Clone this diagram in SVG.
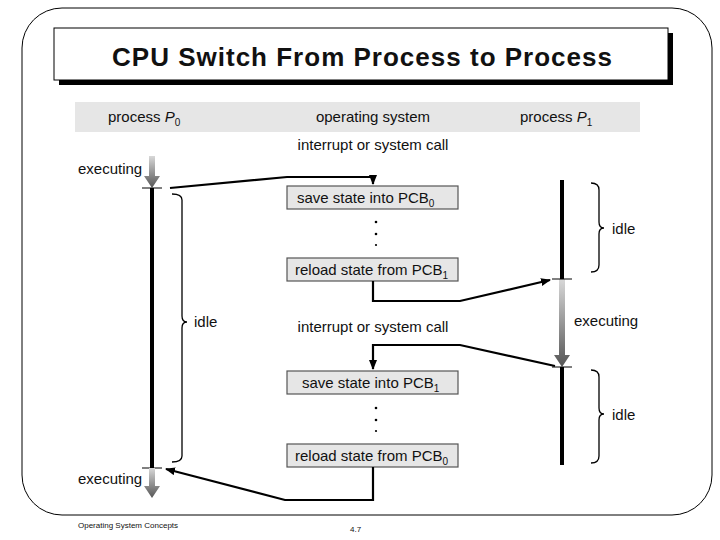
<svg xmlns="http://www.w3.org/2000/svg" width="720" height="540" viewBox="0 0 720 540">
<defs>
<marker id="ah" markerWidth="10" markerHeight="8" refX="9" refY="4" orient="auto" markerUnits="userSpaceOnUse"><path d="M0,0 L10,4 L0,8 Z" fill="#000"/></marker>
<linearGradient id="g" x1="0" y1="0" x2="0" y2="1"><stop offset="0" stop-color="#d8d8d8"/><stop offset="1" stop-color="#555"/></linearGradient>
<style>
text{font-family:"Liberation Sans",Arial,sans-serif;font-size:15px;fill:#111}
.box{fill:#e6e6e6;stroke:#555;stroke-width:1.2}
.c{fill:none;stroke:#000;stroke-width:2.2}
.br{fill:none;stroke:#000;stroke-width:1.3}
</style>
</defs>
<rect width="720" height="540" fill="#fff"/>
<rect x="22" y="8" width="690" height="507" rx="40" fill="none" stroke="#000" stroke-width="1"/>
<g id="title">
<rect x="59" y="33" width="614" height="52" fill="#000"/>
<rect x="54" y="28" width="614" height="52" fill="#fff" stroke="#000" stroke-width="1"/>
<text x="362" y="66" text-anchor="middle" textLength="500" style="font-size:26px;font-weight:bold">CPU Switch From Process to Process</text>
</g>
<g id="header">
<rect x="75" y="102" width="565" height="30" fill="#e6e6e6"/>
<text x="108" y="122">process <tspan font-style="italic">P</tspan><tspan font-size="10" dy="4">0</tspan></text>
<text x="373" y="122" text-anchor="middle">operating system</text>
<text x="520" y="122">process <tspan font-style="italic">P</tspan><tspan font-size="10" dy="4">1</tspan></text>
</g>
<g id="p0">
<path d="M149,156 H155 V176 H160 L152,188 L144,176 H149 Z" fill="url(#g)"/>
<line x1="152" y1="188" x2="152" y2="468" stroke="#000" stroke-width="4"/>
<line x1="142" y1="188" x2="162" y2="188" stroke="#000" stroke-width="1"/>
<line x1="142" y1="468" x2="162" y2="468" stroke="#000" stroke-width="1"/>
<path d="M149,468 H155 V486 H160 L152,498 L144,486 H149 Z" fill="url(#g)"/>
<path class="br" d="M172,194 Q182,194 182,200 V316 Q182,322 187,322 Q182,322 182,328 V456 Q182,462 172,462"/>
<text x="78" y="174">executing</text>
<text x="78" y="484">executing</text>
<text x="194" y="327">idle</text>
</g>
<g id="os">
<text x="373" y="150" text-anchor="middle">interrupt or system call</text>
<g id="n1"><rect class="box" x="287" y="186" width="171" height="23"/><text x="297" y="203">save state into PCB<tspan font-size="10" dy="4">0</tspan></text></g>
<g id="n2"><rect class="box" x="287" y="258" width="171" height="23"/><text x="295" y="275">reload state from PCB<tspan font-size="10" dy="4">1</tspan></text></g>
<text x="373" y="332" text-anchor="middle">interrupt or system call</text>
<g id="n3"><rect class="box" x="287" y="371" width="171" height="23"/><text x="302" y="388">save state into PCB<tspan font-size="10" dy="4">1</tspan></text></g>
<g id="n4"><rect class="box" x="287" y="444" width="171" height="23"/><text x="295" y="461">reload state from PCB<tspan font-size="10" dy="4">0</tspan></text></g>
<g fill="#000"><circle cx="376" cy="222" r="1.3"/><circle cx="376" cy="234" r="1.3"/><circle cx="376" cy="245" r="1.1"/><circle cx="376" cy="408" r="1.3"/><circle cx="376" cy="420" r="1.3"/><circle cx="376" cy="431" r="1.1"/></g>
</g>
<g id="p1">
<line x1="562" y1="180" x2="562" y2="279" stroke="#000" stroke-width="4"/>
<path d="M559,279 H565 V355 H570 L562,367 L554,355 H559 Z" fill="url(#g)"/>
<line x1="562" y1="367" x2="562" y2="465" stroke="#000" stroke-width="4"/>
<line x1="552" y1="279" x2="572" y2="279" stroke="#000" stroke-width="1"/>
<line x1="552" y1="367" x2="572" y2="367" stroke="#000" stroke-width="1"/>
<path class="br" d="M591,183 Q599,183 599,190 V222 Q599,228 604,228 Q599,228 599,234 V265 Q599,272 591,272"/>
<path class="br" d="M591,370 Q599,370 599,377 V408 Q599,414 604,414 Q599,414 599,420 V456 Q599,463 591,463"/>
<text x="612" y="234">idle</text>
<text x="574" y="326">executing</text>
<text x="612" y="420">idle</text>
</g>
<g id="connectors">
<path class="c" d="M170,188 L287,177 H373 V184" marker-end="url(#ah)"/>
<path class="c" d="M373,281 V301 H460 L550,280" marker-end="url(#ah)"/>
<path class="c" d="M555,366 L460,345 H373 V369" marker-end="url(#ah)"/>
<path class="c" d="M373,467 V500 H285 L166,469" marker-end="url(#ah)"/>
</g>
<g id="footer">
<text x="78" y="528" style="font-size:8px">Operating System Concepts</text>
<text x="350" y="532" style="font-size:8px">4.7</text>
</g>
</svg>
